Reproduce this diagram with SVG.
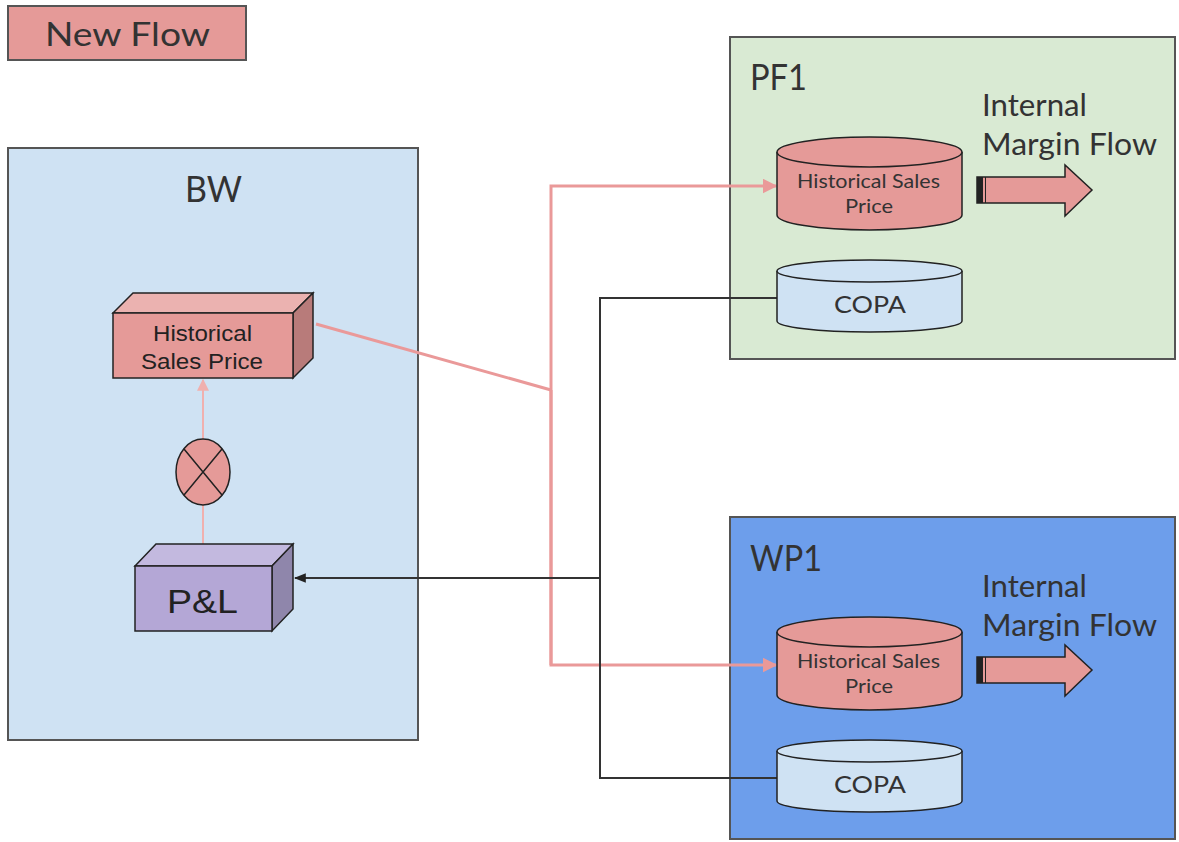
<svg xmlns="http://www.w3.org/2000/svg" width="1179" height="842" viewBox="0 0 1179 842">
<defs>
<style>
.frame{stroke:#555;stroke-width:2}
.lbl{font-family:Lato,"Open Sans",sans-serif;fill:#333}
.ar{font-family:"Liberation Sans",Arial,sans-serif;fill:#222}
.cyl{stroke:#222;stroke-width:1.5}
.pink{stroke:#ea9999;stroke-width:3;fill:none}
.blk{stroke:#333;stroke-width:2;fill:none}
</style>
<marker id="pa" viewBox="0 0 10 10" refX="9" refY="5" markerWidth="5" markerHeight="5" orient="auto" markerUnits="strokeWidth"><path d="M0,0 L10,5 L0,10 z" fill="#ea9999"/></marker>
<marker id="pa2" viewBox="0 0 10 10" refX="9" refY="5" markerWidth="6" markerHeight="6" orient="auto" markerUnits="strokeWidth"><path d="M0,0 L10,5 L0,10 z" fill="#f0b0ae"/></marker>
<marker id="ba" viewBox="0 0 10 10" refX="9" refY="5" markerWidth="6" markerHeight="6" orient="auto" markerUnits="strokeWidth"><path d="M0,1 L10,5 L0,9 z" fill="#222"/></marker>
</defs>
<rect width="1179" height="842" fill="#fff"/>

<g id="legend">
<rect x="8" y="6" width="238" height="54" fill="#e59a98" stroke="#555" stroke-width="2"/>
<text class="lbl" x="45" y="46" font-size="32" textLength="165" lengthAdjust="spacingAndGlyphs">New Flow</text>
</g>

<g id="bw">
<rect x="8" y="148" width="410" height="592" fill="#cfe2f3" class="frame"/>
<text class="lbl" x="185" y="202" font-size="36" textLength="57" lengthAdjust="spacingAndGlyphs">BW</text>
</g>

<g id="pf1">
<rect x="730" y="37" width="445" height="322" fill="#d9ead3" class="frame"/>
<text class="lbl" x="750" y="90" font-size="36" textLength="57" lengthAdjust="spacingAndGlyphs">PF1</text>
<text class="lbl" x="982" y="116" font-size="30" textLength="105" lengthAdjust="spacingAndGlyphs">Internal</text>
<text class="lbl" x="982" y="155" font-size="30" textLength="175" lengthAdjust="spacingAndGlyphs">Margin Flow</text>
</g>

<g id="wp1">
<rect x="730" y="517" width="445" height="322" fill="#6d9eeb" class="frame"/>
<text class="lbl" x="750" y="571" font-size="36" textLength="72" lengthAdjust="spacingAndGlyphs">WP1</text>
<text class="lbl" x="982" y="597" font-size="30" textLength="105" lengthAdjust="spacingAndGlyphs">Internal</text>
<text class="lbl" x="982" y="636" font-size="30" textLength="175" lengthAdjust="spacingAndGlyphs">Margin Flow</text>
</g>

<g id="connectors">
<polyline class="pink" points="316,324 551,390"/>
<polyline class="pink" points="551,665 551,186 776,186" marker-end="url(#pa)"/>
<polyline class="pink" points="551,390 551,665 776,665" marker-end="url(#pa)"/>
<polyline class="blk" points="779,298 600,298 600,778 779,778"/>
<line class="blk" x1="600" y1="578" x2="295" y2="578" stroke-width="2" marker-end="url(#ba)"/>
<line x1="203" y1="566" x2="203" y2="505" stroke="#f0b0ae" stroke-width="2"/>
<line x1="203" y1="439" x2="203" y2="380" stroke="#f0b0ae" stroke-width="2" marker-end="url(#pa2)"/>
</g>

<g id="hsp-box">
<polygon points="113,313 133,293 313,293 293,313" fill="#ebb2b0" stroke="#222" stroke-width="1.5"/>
<polygon points="293,313 313,293 313,358 293,378" fill="#b87b7a" stroke="#222" stroke-width="1.5"/>
<rect x="113" y="313" width="180" height="65" fill="#e59a98" stroke="#222" stroke-width="1.5"/>
<text x="153" y="341" font-family="'Liberation Sans', Arial, sans-serif" fill="#222" font-size="22" textLength="99" lengthAdjust="spacingAndGlyphs">Historical</text>
<text x="141" y="369" font-family="'Liberation Sans', Arial, sans-serif" fill="#222" font-size="22" textLength="122" lengthAdjust="spacingAndGlyphs">Sales Price</text>
</g>

<g id="merge">
<ellipse cx="203" cy="472" rx="27" ry="33" fill="#e59a98" stroke="#222" stroke-width="1.5"/>
<path d="M184,449 L222,495 M222,449 L184,495" stroke="#222" stroke-width="1.5"/>
</g>

<g id="pl-box">
<polygon points="135,566 156,544 293,544 272,566" fill="#c3b9df" stroke="#222" stroke-width="1.5"/>
<polygon points="272,566 293,544 293,609 272,631" fill="#8f86ab" stroke="#222" stroke-width="1.5"/>
<rect x="135" y="566" width="137" height="65" fill="#b4a7d6" stroke="#222" stroke-width="1.5"/>
<text x="167" y="613" font-family="'Liberation Sans', Arial, sans-serif" fill="#222" font-size="33" textLength="71" lengthAdjust="spacingAndGlyphs">P&amp;L</text>
</g>

<g id="pf1-hsp">
<path d="M777,152 L777,215 A92.5,15 0 0 0 962,215 L962,152" fill="#e59a98" class="cyl"/>
<ellipse cx="869.5" cy="152" rx="92.5" ry="15" fill="#e59a98" class="cyl"/>
<text class="lbl" x="797" y="188" font-size="19" fill="#444" textLength="143" lengthAdjust="spacingAndGlyphs">Historical Sales</text>
<text class="lbl" x="845" y="213" font-size="19" fill="#444" textLength="48" lengthAdjust="spacingAndGlyphs">Price</text>
</g>

<g id="pf1-arrow">
<path d="M977,177 L1065,177 L1065,165 L1092,190 L1065,216 L1065,203 L977,203 Z" fill="#e59a98" stroke="#222" stroke-width="1.5"/>
<rect x="977" y="177" width="6" height="26" fill="#222"/>
<line x1="985.5" y1="177" x2="985.5" y2="203" stroke="#222" stroke-width="1"/>
</g>

<g id="pf1-copa">
<path d="M777,271 L777,321 A92.5,11 0 0 0 962,321 L962,271" fill="#cfe2f3" class="cyl"/>
<ellipse cx="869.5" cy="271" rx="92.5" ry="11" fill="#cfe2f3" class="cyl"/>
<text class="lbl" x="834" y="313" font-size="24" textLength="72" lengthAdjust="spacingAndGlyphs">COPA</text>
</g>

<g id="wp1-hsp">
<path d="M777,632 L777,695 A92.5,15 0 0 0 962,695 L962,632" fill="#e59a98" class="cyl"/>
<ellipse cx="869.5" cy="632" rx="92.5" ry="15" fill="#e59a98" class="cyl"/>
<text class="lbl" x="797" y="668" font-size="19" fill="#444" textLength="143" lengthAdjust="spacingAndGlyphs">Historical Sales</text>
<text class="lbl" x="845" y="693" font-size="19" fill="#444" textLength="48" lengthAdjust="spacingAndGlyphs">Price</text>
</g>

<g id="wp1-arrow">
<path d="M977,657 L1065,657 L1065,645 L1092,670 L1065,696 L1065,683 L977,683 Z" fill="#e59a98" stroke="#222" stroke-width="1.5"/>
<rect x="977" y="657" width="6" height="26" fill="#222"/>
<line x1="985.5" y1="657" x2="985.5" y2="683" stroke="#222" stroke-width="1"/>
</g>

<g id="wp1-copa">
<path d="M777,751 L777,801 A92.5,11 0 0 0 962,801 L962,751" fill="#cfe2f3" class="cyl"/>
<ellipse cx="869.5" cy="751" rx="92.5" ry="11" fill="#cfe2f3" class="cyl"/>
<text class="lbl" x="834" y="793" font-size="24" textLength="72" lengthAdjust="spacingAndGlyphs">COPA</text>
</g>
</svg>
